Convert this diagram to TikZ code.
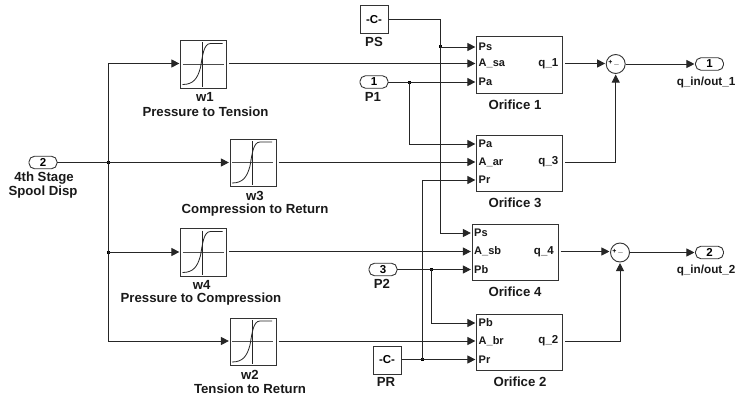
\documentclass[tikz,border=0pt]{standalone}
\usepackage{fontspec}
\setmainfont{Liberation Sans}
\usetikzlibrary{arrows.meta}
\tikzset{
 x=1pt,y=-1pt,
 wire/.style={draw=black!85,line width=0.85pt},
 arr/.style={wire,-{Triangle[length=8pt,width=8pt]},shorten >=0.6pt},
 block/.style={draw=black!80,line width=1pt,fill=white,inner sep=0pt,minimum width=#1},
 lab/.style={font=\bfseries\fontsize{13.2}{14}\selectfont,inner sep=0pt,text=black!90},
 endlab/.style={font=\bfseries\fontsize{11.7}{14}\selectfont,inner sep=0pt,text=black!90,anchor=east},
 plab/.style={font=\bfseries\fontsize{11}{12}\selectfont,inner sep=0pt,text=black!90,anchor=west},
 qlab/.style={font=\bfseries\fontsize{11.5}{12}\selectfont,inner sep=0pt,text=black!90,anchor=east},
 pill/.style={draw=black!80,line width=0.9pt,fill=white,rounded corners=5.5pt,minimum width=28pt,minimum height=12.5pt,inner sep=0pt,font=\bfseries\fontsize{11.5}{12}\selectfont},
 const/.style={block=28pt,minimum height=28pt,font=\bfseries\fontsize{11.5}{12}\selectfont},
 sat/.style={block=46pt,minimum height=47.5pt},
 orif/.style={block=86pt,minimum height=56pt},
 sumb/.style={circle,draw=black!80,line width=0.9pt,fill=white,minimum size=19pt,inner sep=0pt},
 junc/.style={fill=black,inner sep=0pt,minimum size=3pt},
 icon/.style={line width=0.8pt,black!85}
}
\newcommand{\sigicon}[1]{%
 \begin{scope}[shift={(#1.center)}]
 \draw[icon,black!70] (-21,-0.5) -- (20,-0.5);
 \draw[icon] (-1,-22) -- (-1,22);
 \draw[icon] (-21,20) .. controls (-10,20) and (-6,14) .. (-3,3) .. controls (-1,-8) and (0,-21) .. (7,-21) -- (19,-21);
 \end{scope}
}
\begin{document}
\begin{tikzpicture}
\useasboundingbox (0,0) rectangle (736,396);
\clip (0,0) rectangle (736,396);
% blocks
\node[sat] (w1) at (203.5,64.5) {};
\node[sat] (w3) at (253,163) {};
\node[sat] (w4) at (203.5,252.5) {};
\node[sat] (w2) at (253,342) {};
\sigicon{w1}\sigicon{w3}\sigicon{w4}\sigicon{w2}
\node[orif] (o1) at (519.5,65) {};
\node[orif] (o3) at (519.5,163) {};
\node[orif] (o4) at (515,252.7) {};
\node[orif] (o2) at (519.5,342) {};
\node[pill] (in2) at (43,162.5) {2};
\node[pill] (p1) at (374,82) {1};
\node[pill] (p2) at (383,269.5) {3};
\node[pill] (out1) at (709.5,64) {1};
\node[pill] (out2) at (709.5,252.5) {2};
\node[const] (ps) at (374,20) {-C-};
\node[const] (pr) at (387,360) {-C-};
\node[sumb] (s1) at (615.7,64) {};
\node[sumb] (s2) at (620,252.5) {};
\node[font=\bfseries\fontsize{7}{8}\selectfont,inner sep=0pt] (s1p) at (610.5,62.5) {+};
\node[font=\bfseries\fontsize{8}{8}\selectfont,inner sep=0pt] (s1m) at (616.5,64.5) {\_};
\node[font=\bfseries\fontsize{7}{8}\selectfont,inner sep=0pt] (s2p) at (614.5,251) {+};
\node[font=\bfseries\fontsize{8}{8}\selectfont,inner sep=0pt] (s2m) at (620.5,253) {\_};
% port coordinates
\coordinate (o1ps) at (o1.west |- 0,46.5);
\coordinate (o1as) at (o1.west |- 0,63.5);
\coordinate (o1pa) at (o1.west |- 0,82);
\coordinate (o1q)  at (o1.east |- 0,63.5);
\coordinate (o3pa) at (o3.west |- 0,144);
\coordinate (o3aa) at (o3.west |- 0,162);
\coordinate (o3pr) at (o3.west |- 0,180);
\coordinate (o3q)  at (o3.east |- 0,162);
\coordinate (o4ps) at (o4.west |- 0,233);
\coordinate (o4as) at (o4.west |- 0,251.5);
\coordinate (o4pb) at (o4.west |- 0,269.5);
\coordinate (o4q)  at (o4.east |- 0,251.5);
\coordinate (o2pb) at (o2.west |- 0,323);
\coordinate (o2ab) at (o2.west |- 0,341);
\coordinate (o2pr) at (o2.west |- 0,359.5);
\coordinate (o2q)  at (o2.east |- 0,341);
% junctions
\node[junc] (jv) at (108.5,162.5) {};
\node[junc] (jw4) at (108.5,252) {};
\node[junc] (jps) at (440,47) {};
\node[junc] (jp1) at (409.5,82) {};
\node[junc] (jp2) at (431.5,269.5) {};
\node[junc] (jpr) at (422.5,359.5) {};
% wires
\draw[wire] (in2.east) -- (jv.center);
\draw[arr] (jv.center) -- (w3.west |- jv.center);
\draw[arr] (jv.center) |- (w1.west |- o1as);
\draw[arr] (jv.center) |- (w2.west |- o2ab);
\draw[arr] (jw4.center) -- (w4.west |- jw4.center);
\draw[arr] ([xshift=2pt]w1.east |- o1as) -- (o1as);
\draw[arr] ([xshift=2pt]w3.east |- o3aa) -- (o3aa);
\draw[arr] ([xshift=2pt]w4.east |- o4as) -- (o4as);
\draw[arr] ([xshift=2pt]w2.east |- o2ab) -- (o2ab);
\draw[arr] (ps.east |- 0,19) -- (jps.center |- 0,19) |- (o4ps);
\draw[arr] (jps.center) -- (o1ps |- jps.center);
\draw[arr] (p1.east) -- (o1pa);
\draw[arr] (jp1.center) |- (o3pa);
\draw[arr] (p2.east) -- (o4pb);
\draw[arr] (jp2.center) |- (o2pb);
\draw[arr] (pr.east |- 0,359.5) -- (o2pr);
\draw[arr] (jpr.center) |- (o3pr);
\draw[arr] ([xshift=2pt]o1q) -- (s1.west |- o1q);
\draw[arr] ([xshift=2pt]o3q) -| (s1.south);
\draw[arr] (s1.east) -- (out1.west);
\draw[arr] ([xshift=2pt]o4q) -- (s2.west |- o4q);
\draw[arr] ([xshift=2pt]o2q) -| (s2.south);
\draw[arr] (s2.east) -- (out2.west);
% port labels
\foreach \p/\t in {o1ps/Ps,o1as/A\_sa,o1pa/Pa,o3pa/Pa,o3aa/A\_ar,o3pr/Pr,o4ps/Ps,o4as/A\_sb,o4pb/Pb,o2pb/Pb,o2ab/A\_br,o2pr/Pr}
  \node[plab] (t\p) at ([xshift=2.5pt]\p) {\t};
\foreach \p/\t in {o1q/q\_1,o3q/q\_3,o4q/q\_4,o2q/q\_2}
  \node[qlab] (t\p) at ([xshift=-4.5pt]\p) {\t};
% captions
\node[lab] (c1a) at (205,97) {w1};
\node[lab] (c1b) at (205.5,112) {Pressure to Tension};
\node[lab] (c3a) at (255,196) {w3};
\node[lab] (c3b) at (255,209.7) {Compression to Return};
\node[lab] (c4a) at (201.7,285) {w4};
\node[lab] (c4b) at (201,298.7) {Pressure to Compression};
\node[lab] (c2a) at (250,375) {w2};
\node[lab] (c2b) at (250,388.7) {Tension to Return};
\node[lab] (ci1) at (44,178) {4th Stage};
\node[lab] (ci2) at (43,192) {Spool Disp};
\node[lab] (cps) at (374,42) {PS};
\node[lab] (cp1) at (373,97) {P1};
\node[lab] (cp2) at (382,284) {P2};
\node[lab] (cpr) at (386,382) {PR};
\node[lab] (co1) at (515,105) {Orifice 1};
\node[lab] (co3) at (515,203) {Orifice 3};
\node[lab] (co4) at (515,292) {Orifice 4};
\node[lab] (co2) at (520,381.7) {Orifice 2};
\node[endlab] (cq1) at (735.5,82) {q\_in/out\_1};
\node[endlab] (cq2) at (735.5,270) {q\_in/out\_2};
\end{tikzpicture}
\end{document}
